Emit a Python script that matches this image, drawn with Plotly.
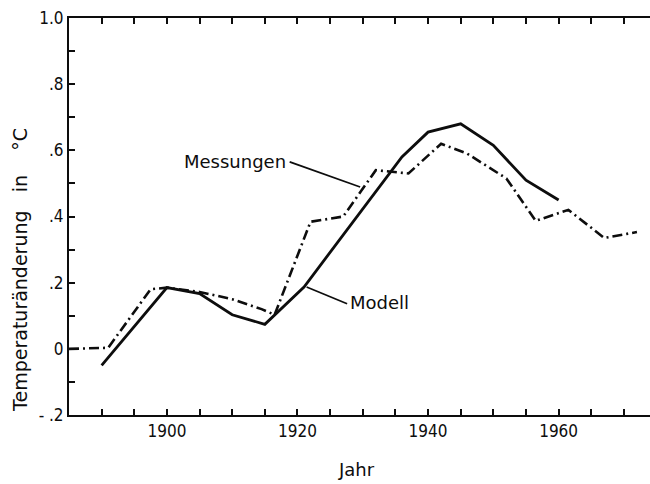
import plotly.graph_objects as go

# Modellrechnung (durchgezogen)
model_years = [1890, 1900, 1905, 1910, 1915, 1921, 1936, 1940, 1945, 1950, 1955, 1960]
model_vals = [-0.05, 0.185, 0.167, 0.103, 0.074, 0.187, 0.58, 0.655, 0.68, 0.615, 0.51, 0.45]

# Messungen (strichpunktiert)
meas_years = [1885, 1891, 1897.5, 1900, 1905, 1910, 1914.5, 1916.5, 1922, 1927, 1932,
              1937, 1942, 1946, 1952, 1956.5, 1961.5, 1967, 1972]
meas_vals = [0.0, 0.003, 0.18, 0.185, 0.172, 0.15, 0.12, 0.103, 0.384, 0.40, 0.54,
             0.53, 0.62, 0.59, 0.515, 0.387, 0.42, 0.335, 0.353]

y_tickvals = [-0.2, 0.0, 0.2, 0.4, 0.6, 0.8, 1.0]
y_ticktext = ["- .2", "0", ".2", ".4", ".6", ".8", "1.0"]
x_tickvals = [1900, 1920, 1940, 1960]
x_ticktext = ["1900", "1920", "1940", "1960"]

FONT = "DejaVu Sans Condensed"
WIDE = "DejaVu Sans"
INK = "#0d0d0d"

fig = go.Figure()
fig.add_trace(go.Scatter(x=meas_years, y=meas_vals, mode="lines",
                         line=dict(color=INK, width=2.6, dash="10px,4px,2px,4px")))
fig.add_trace(go.Scatter(x=model_years, y=model_vals, mode="lines",
                         line=dict(color=INK, width=2.8)))

# Beschriftung mit Hinweislinien
fig.add_shape(type="line", x0=1918.8, y0=0.565, x1=1929.6, y1=0.489,
              line=dict(color=INK, width=1.7))
fig.add_shape(type="line", x0=1921.4, y0=0.187, x1=1927.6, y1=0.136,
              line=dict(color=INK, width=1.7))
fig.add_annotation(x=1918.6, y=0.567, text="Messungen", showarrow=False,
                   xanchor="right", yanchor="middle",
                   font=dict(family=WIDE, size=18, color=INK))
fig.add_annotation(x=1927.8, y=0.14, text="Modell", showarrow=False,
                   xanchor="left", yanchor="middle",
                   font=dict(family=WIDE, size=18, color=INK))

# Achsentitel
fig.add_annotation(xref="paper", yref="paper", x=-0.084, y=0.366,
                   text="Temperaturänderung\u00a0\u00a0\u00a0in\u00a0\u00a0\u00a0\u00a0°C", textangle=-90,
                   showarrow=False, xanchor="center", yanchor="middle",
                   font=dict(family=WIDE, size=19, color=INK))
fig.add_annotation(xref="paper", yref="paper", x=0.494, y=-0.138,
                   text="Jahr", showarrow=False, xanchor="center", yanchor="middle",
                   font=dict(family=WIDE, size=18, color=INK))

fig.update_layout(
    width=650, height=484,
    margin=dict(l=69, r=0, t=18, b=69),
    paper_bgcolor="white", plot_bgcolor="white",
    showlegend=False,
    font=dict(family=FONT, size=17, color=INK),
)
fig.update_xaxes(
    range=[1885, 1974], showgrid=False, zeroline=False,
    showline=True, linecolor=INK, linewidth=2, mirror="ticks",
    tickmode="array", tickvals=x_tickvals, ticktext=x_ticktext,
    ticks="inside", ticklen=6, tickwidth=1.6, tickcolor=INK,
    minor=dict(tick0=1885, dtick=5, ticks="inside", ticklen=6, tickwidth=1.6, tickcolor=INK),
    tickfont=dict(family=FONT, size=17, color=INK),
)
fig.update_yaxes(
    range=[-0.2, 1.0], showgrid=False, zeroline=False,
    showline=True, linecolor=INK, linewidth=2,
    tickmode="array", tickvals=y_tickvals, ticktext=y_ticktext,
    ticks="inside", ticklen=6, tickwidth=1.6, tickcolor=INK,
    minor=dict(tick0=0, dtick=0.1, ticks="inside", ticklen=6, tickwidth=1.6, tickcolor=INK),
    tickfont=dict(family=FONT, size=17, color=INK),
)

fig.write_html("out.html")
